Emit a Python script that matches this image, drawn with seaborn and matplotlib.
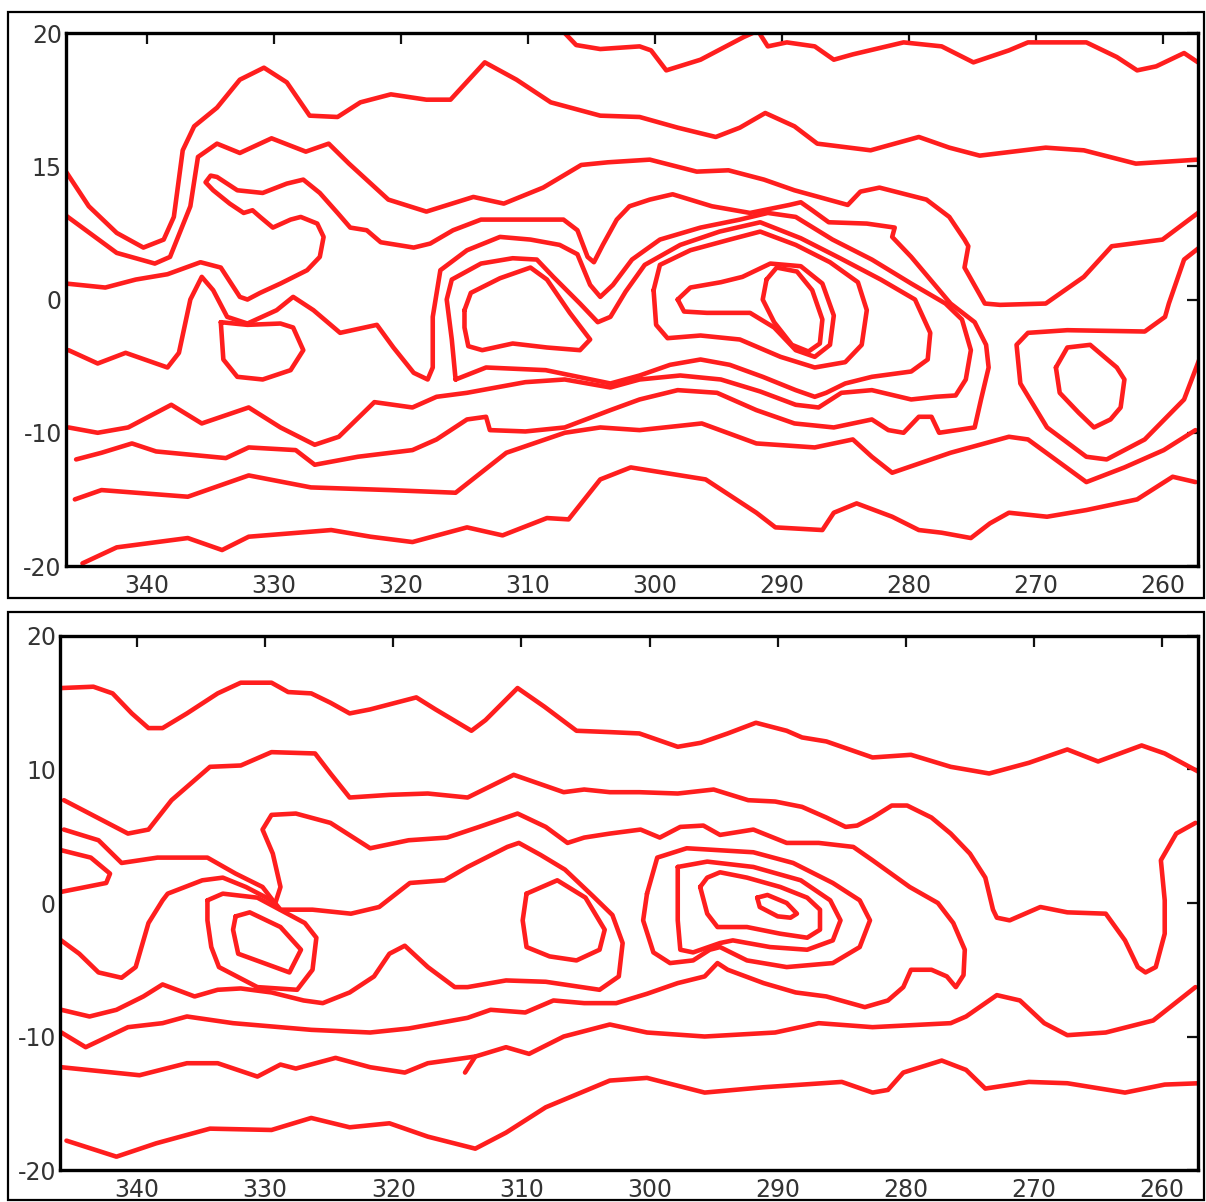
import matplotlib
matplotlib.use("Agg")
import matplotlib.pyplot as plt
import pandas as pd
import seaborn as sns
from matplotlib.patches import Rectangle

# hand traced contour lines, (lon, lat) pairs

# ---- upper panel ----
up_a1 = [(307.1, 20.0), (306.2, 19.1), (304.3, 18.8), (301.2, 19.0), (300.3, 18.7), (299.1, 17.2),
         (296.4, 18.0), (293.0, 19.7), (292.3, 20.0)]
up_a2 = [(291.7, 19.9), (291.1, 19.0), (289.6, 19.3), (287.4, 19.0), (285.9, 18.0), (284.4, 18.4),
         (280.4, 19.3), (277.4, 19.0), (274.9, 17.8), (272.1, 18.7), (270.6, 19.3), (266.0, 19.3),
         (263.6, 18.2), (262.0, 17.2), (260.5, 17.5), (258.3, 18.5), (257.2, 17.8)]
up_b = [(346.4, 9.6), (344.6, 7.0), (342.4, 5.0), (340.3, 3.9), (338.7, 4.5), (337.9, 6.2), (337.2, 11.2),
        (336.3, 13.0), (334.5, 14.4), (332.7, 16.5), (330.8, 17.4), (329.0, 16.3), (327.2, 13.8),
        (325.0, 13.7), (323.2, 14.8), (320.8, 15.4), (318.0, 15.0), (316.1, 15.0), (313.4, 17.8),
        (310.9, 16.5), (308.2, 14.8), (304.3, 13.8), (301.2, 13.7), (298.2, 12.9), (295.2, 12.2),
        (293.3, 12.9), (291.3, 14.0), (289.0, 13.0), (287.2, 11.7), (283.0, 11.2), (279.2, 12.2),
        (276.8, 11.4), (274.4, 10.8), (269.2, 11.4), (266.2, 11.2), (262.1, 10.2), (257.2, 10.5)]
up_c = [(346.4, 6.3), (342.4, 3.5), (339.4, 2.7), (338.2, 3.2), (336.6, 7.0), (336.0, 10.7), (334.5, 11.7),
        (332.7, 11.0), (330.2, 12.1), (327.5, 11.1), (325.7, 11.7), (324.1, 10.2), (321.0, 7.5),
        (318.0, 6.6), (314.3, 7.7), (311.9, 7.2), (308.8, 8.4), (305.8, 10.1), (303.7, 10.3),
        (300.4, 10.5), (296.7, 9.6), (294.2, 9.7), (291.4, 9.0), (289.0, 8.2), (284.8, 7.1), (283.8, 8.1),
        (282.3, 8.4), (278.6, 7.5), (276.8, 6.2), (275.6, 4.5), (275.3, 4.0), (275.6, 2.4), (274.0, -0.3),
        (272.8, -0.4), (269.2, -0.3), (266.2, 1.7), (264.0, 4.0), (260.0, 4.5), (257.2, 6.5)]
up_d = [(346.4, 1.2), (343.3, 0.9), (340.9, 1.5), (338.4, 1.9), (335.8, 2.8), (334.2, 2.4), (332.7, 0.2),
        (332.1, 0.0), (331.1, 0.5), (329.5, 1.2), (327.4, 2.2), (326.4, 3.2), (326.1, 4.7), (326.6, 5.7),
        (327.9, 6.2), (328.7, 6.0), (330.1, 5.4), (331.1, 6.2), (331.7, 6.7), (332.4, 6.5), (333.5, 7.2),
        (334.8, 8.2), (335.4, 8.8), (335.0, 9.3), (334.5, 9.2), (332.9, 8.2), (330.9, 8.0), (329.0, 8.7),
        (327.7, 9.0), (326.4, 8.0), (325.0, 6.5), (324.0, 5.4), (322.7, 5.2), (321.6, 4.3), (319.0, 3.9),
        (317.7, 4.2), (315.9, 5.2), (313.7, 6.0), (309.6, 6.0), (307.2, 6.0), (306.1, 5.2), (305.3, 3.2),
        (304.8, 2.8), (304.1, 4.1), (303.0, 6.0), (302.0, 7.0), (300.4, 7.5), (298.6, 7.9), (295.5, 7.0),
        (292.5, 6.5), (289.4, 7.1), (288.5, 7.3), (287.6, 6.7), (286.3, 5.8), (283.3, 5.7), (281.1, 5.4),
        (281.3, 4.7), (279.8, 3.2), (276.7, -0.3), (274.8, -1.7), (273.9, -3.4), (273.7, -5.1),
        (274.3, -7.5), (274.8, -9.6), (277.6, -10.0), (278.2, -8.8), (279.2, -8.8), (280.4, -10.0),
        (281.6, -9.8), (282.9, -9.0), (285.9, -9.6), (289.0, -9.3), (292.0, -8.3), (295.1, -7.0),
        (298.2, -6.8), (301.2, -7.5), (303.5, -8.3), (307.1, -9.6), (310.2, -9.9), (313.0, -9.8),
        (313.3, -8.8), (314.8, -9.0), (317.2, -10.5), (319.1, -11.3), (323.4, -11.8), (326.8, -12.4),
        (328.3, -11.3), (332.0, -11.1), (333.8, -11.9), (339.3, -11.4), (341.2, -10.8), (343.6, -11.5),
        (345.6, -12.0)]
up_p = [(346.2, -3.8), (343.9, -4.8), (341.7, -4.0), (338.4, -5.1), (337.5, -4.0), (336.6, 0.0), (335.7, 1.7),
        (334.8, 0.7), (333.7, -1.3), (332.1, -1.8), (329.8, -0.8), (328.5, 0.2), (326.9, -0.8),
        (324.8, -2.5), (321.9, -1.9), (320.6, -3.6), (319.0, -5.5), (317.9, -6.0), (317.5, -5.1),
        (317.5, -1.3), (316.9, 2.2), (314.8, 3.7), (312.2, 4.7), (309.8, 4.5), (307.5, 4.1), (306.1, 3.4),
        (305.1, 1.1), (304.3, 0.2), (303.3, 1.1), (301.8, 3.0), (299.6, 4.5), (296.4, 5.4), (293.3, 6.0),
        (291.1, 6.5), (288.9, 6.2), (286.0, 4.5), (282.9, 3.0), (279.8, 1.2), (277.1, -0.3), (275.8, -1.5),
        (275.1, -3.8), (275.5, -6.0), (276.3, -7.2), (277.9, -7.3), (279.8, -7.5), (282.9, -6.8),
        (285.3, -7.0), (287.1, -8.1), (288.9, -7.9), (291.7, -6.9), (294.8, -6.0), (298.0, -5.7),
        (301.2, -6.0), (303.5, -6.6), (307.1, -6.0), (310.2, -6.2), (314.8, -7.0), (317.2, -7.3),
        (319.1, -8.1), (322.1, -7.7), (324.9, -10.3), (326.8, -10.9), (329.5, -9.6), (332.0, -8.1),
        (335.7, -9.3), (338.1, -7.9), (341.5, -9.6), (343.9, -10.0), (346.2, -9.6)]
up_c2 = [(315.7, -6.0), (316.0, -3.0), (316.4, 0.0), (316.0, 1.5), (313.7, 2.7), (311.2, 3.1), (309.3, 3.0),
         (308.0, 1.7), (305.9, -0.3), (304.5, -1.7), (303.5, -1.3), (302.3, 0.6), (300.8, 2.6),
         (298.0, 4.1), (294.9, 5.1), (291.7, 5.8), (288.5, 4.6), (285.4, 3.1), (282.2, 1.5), (279.5, 0.0),
         (278.3, -2.5), (278.5, -4.5), (279.8, -5.4), (282.9, -5.8), (285.0, -6.3), (286.5, -7.0),
         (287.4, -7.3), (288.9, -6.8), (291.5, -5.8), (294.1, -4.9), (296.4, -4.5), (298.8, -4.9),
         (301.2, -5.7), (303.5, -6.3), (308.6, -5.3), (313.3, -5.1), (315.7, -6.0)]
up_small = [(334.2, -1.7), (334.0, -4.5), (332.9, -5.8), (330.9, -6.0), (328.7, -5.3), (327.7, -3.8),
            (328.5, -2.1), (329.5, -1.8), (332.1, -1.9), (334.2, -1.7)]
up_tri = [(315.0, -0.8), (314.5, 0.5), (312.2, 1.6), (309.8, 2.4), (308.5, 1.5), (306.7, -1.0), (305.1, -3.0),
          (305.9, -3.8), (308.5, -3.6), (311.2, -3.3), (313.6, -3.8), (314.7, -3.5), (315.0, -2.1),
          (315.0, -0.8)]
up_o1 = [(291.2, 1.5), (290.4, 2.4), (288.8, 2.1), (287.6, 0.7), (286.8, -1.5), (287.0, -3.3), (287.9, -3.9),
         (289.2, -3.4), (290.6, -1.7), (291.5, 0.0), (291.2, 1.5)]
up_o2 = [(298.2, 0.0), (297.2, 0.9), (294.8, 1.3), (293.1, 1.7), (290.9, 2.7), (288.5, 2.5), (286.8, 1.2),
         (285.9, -1.2), (286.2, -3.4), (287.4, -4.3), (288.9, -3.8), (290.6, -2.1), (292.5, -1.0),
         (295.9, -1.0), (297.7, -0.9), (298.2, 0.0)]
up_o3 = [(300.1, 0.7), (299.6, 2.6), (297.2, 3.7), (294.1, 4.5), (291.7, 5.1), (288.9, 4.1), (286.2, 2.8),
         (284.0, 1.3), (283.3, -0.8), (283.7, -3.4), (285.0, -4.7), (287.4, -5.1), (290.1, -4.3),
         (293.3, -3.0), (296.4, -2.7), (299.0, -2.9), (299.9, -1.9), (300.1, 0.7)]
up_e = [(257.1, 3.9), (258.3, 3.0), (259.5, -0.3), (259.8, -1.3), (261.4, -2.4), (267.5, -2.3), (270.6, -2.5),
        (271.5, -3.4), (271.2, -6.3), (269.1, -9.6), (266.0, -11.8), (264.4, -12.0), (261.4, -10.5),
        (258.3, -7.5), (257.1, -4.5)]
up_f = [(268.4, -5.1), (267.5, -3.6), (265.7, -3.4), (263.6, -5.1), (263.0, -6.0), (263.3, -8.1), (264.1, -9.0),
        (265.4, -9.6), (266.6, -8.5), (268.1, -7.0), (268.4, -5.1)]
up_g = [(345.7, -15.0), (343.6, -14.3), (336.8, -14.8), (332.0, -13.2), (327.1, -14.1), (320.9, -14.3),
        (315.7, -14.5), (311.7, -11.5), (307.1, -10.0), (304.3, -9.6), (301.2, -9.8), (296.3, -9.3),
        (292.0, -10.8), (287.4, -11.1), (284.4, -10.5), (282.9, -11.8), (281.3, -13.0), (276.7, -11.5),
        (272.1, -10.3), (270.6, -10.5), (266.0, -13.7), (263.0, -12.6), (259.9, -11.3), (257.4, -9.8)]
up_h = [(345.1, -19.8), (342.4, -18.6), (336.8, -17.9), (334.1, -18.8), (332.0, -17.8), (325.5, -17.3),
        (322.4, -17.8), (319.1, -18.2), (314.8, -17.1), (312.0, -17.7), (308.5, -16.4), (306.8, -16.5),
        (304.3, -13.5), (301.9, -12.6), (296.0, -13.5), (292.0, -16.0), (290.5, -17.1), (286.8, -17.3),
        (285.9, -16.0), (284.1, -15.3), (281.3, -16.3), (279.2, -17.3), (277.4, -17.5), (275.1, -17.9),
        (273.6, -16.8), (272.1, -16.0), (269.1, -16.3), (266.0, -15.8), (262.0, -15.0), (259.2, -13.3),
        (257.4, -13.7)]

# ---- lower panel ----
lo_b1 = [(345.9, 16.1), (343.4, 16.2), (341.9, 15.7), (340.4, 14.2), (339.1, 13.1), (338.0, 13.1),
         (336.1, 14.2), (333.7, 15.7), (331.9, 16.5), (329.5, 16.5), (328.2, 15.8), (326.4, 15.7),
         (324.9, 15.0), (323.4, 14.2), (321.8, 14.5), (318.2, 15.4), (316.7, 14.5), (313.9, 12.9),
         (312.8, 13.7), (310.3, 16.1), (308.2, 14.7), (305.7, 12.9), (303.1, 12.8), (300.8, 12.7),
         (297.8, 11.7), (296.0, 12.0), (293.9, 12.7), (291.7, 13.5), (289.3, 12.9), (288.1, 12.4),
         (286.2, 12.1), (282.6, 10.9), (279.6, 11.1), (276.5, 10.2), (273.5, 9.7), (270.4, 10.5),
         (267.4, 11.5), (265.0, 10.6), (261.6, 11.8), (259.8, 11.2), (257.1, 9.8)]
lo_b2 = [(345.7, 7.7), (343.1, 6.4), (340.7, 5.2), (339.1, 5.5), (337.3, 7.7), (334.3, 10.2), (331.9, 10.3),
         (329.5, 11.3), (326.1, 11.2), (324.9, 9.7), (323.4, 7.9), (320.3, 8.1), (317.3, 8.2), (314.2, 7.9),
         (310.6, 9.6), (306.7, 8.3), (305.1, 8.5), (303.1, 8.3), (300.8, 8.3), (297.8, 8.2), (295.0, 8.5),
         (292.3, 7.7), (290.2, 7.6), (288.1, 7.2), (286.2, 6.4), (284.7, 5.7), (283.8, 5.8), (282.6, 6.4),
         (281.1, 7.3), (279.9, 7.3), (278.0, 6.4), (276.5, 5.2), (275.0, 3.7), (273.8, 1.9), (273.2, -0.5),
         (272.9, -1.1), (271.9, -1.3), (269.5, -0.3), (267.4, -0.7), (264.4, -0.8), (262.9, -2.8),
         (261.9, -4.8), (261.3, -5.2), (260.5, -4.8), (259.8, -2.3), (259.8, 0.2), (260.1, 3.2),
         (258.9, 5.2), (257.4, 6.0)]
lo_b3 = [(345.7, 5.5), (343.0, 4.7), (341.2, 3.0), (338.4, 3.4), (334.5, 3.4), (332.3, 2.2), (330.2, 1.2),
         (329.4, 0.2), (328.8, -0.5), (326.3, -0.5), (323.3, -0.8), (321.1, -0.3), (318.7, 1.5),
         (316.0, 1.7), (314.2, 2.7), (311.1, 4.2), (310.2, 4.5), (308.5, 3.6), (306.6, 2.5), (304.4, 0.5),
         (302.9, -0.9), (302.1, -3.0), (302.4, -5.5), (303.9, -6.5), (308.1, -5.9), (311.2, -5.8),
         (314.2, -6.3), (315.2, -6.3), (317.3, -4.8), (319.1, -3.2), (320.3, -3.8), (321.5, -5.5),
         (323.4, -6.7), (325.5, -7.5), (327.0, -7.3), (329.5, -6.7), (331.9, -6.4), (333.7, -6.5),
         (335.5, -7.0), (338.0, -6.1), (339.5, -7.0), (341.6, -8.0), (343.7, -8.5), (345.9, -8.0)]
lo_hook = [(346.2, -2.6), (344.5, -3.8), (343.0, -5.2), (341.2, -5.6), (340.1, -4.8), (339.1, -1.5),
           (338.0, 0.2), (337.6, 0.7), (334.9, 1.7), (333.3, 1.9), (331.5, 1.2), (329.9, 0.4), (329.2, 0.0),
           (328.8, 1.2), (329.4, 3.7), (330.2, 5.5), (329.5, 6.6), (327.6, 6.7), (324.9, 6.0), (321.8, 4.1),
           (318.8, 4.7), (315.8, 4.9), (313.3, 5.7), (310.3, 6.7), (308.1, 5.7), (306.4, 4.5), (305.1, 4.9),
           (303.1, 5.2), (300.7, 5.5), (299.2, 4.9), (297.6, 5.7), (295.8, 5.8), (294.5, 5.1), (291.9, 5.5),
           (289.3, 4.5), (286.8, 4.5), (284.1, 4.2), (282.6, 3.2), (279.7, 1.2), (277.5, 0.0), (276.3, -1.5),
           (275.4, -3.5), (275.5, -5.4), (276.1, -6.3), (276.8, -5.5), (278.0, -5.0), (279.6, -5.0),
           (280.2, -6.3), (281.4, -7.3), (283.2, -7.8), (286.2, -7.0), (288.6, -6.7), (291.1, -6.0),
           (293.9, -5.0), (294.7, -4.5), (295.7, -5.5), (297.8, -6.0), (300.2, -6.8), (302.6, -7.5),
           (305.1, -7.5), (307.5, -7.3), (309.7, -8.2), (312.4, -8.0), (314.2, -8.6), (318.8, -9.4),
           (321.8, -9.7), (326.4, -9.5), (332.5, -9.0), (336.1, -8.5), (338.0, -9.0), (340.7, -9.3),
           (344.0, -10.8), (345.9, -9.7)]
lo_b6 = [(345.9, -12.3), (339.8, -12.9), (336.1, -12.0), (333.7, -12.0), (330.6, -13.0), (328.8, -12.1),
         (327.6, -12.4), (324.5, -11.6), (321.8, -12.3), (319.1, -12.7), (317.3, -12.0), (313.6, -11.5),
         (311.2, -10.8), (309.4, -11.3), (306.7, -10.0), (303.1, -9.1), (300.2, -9.7), (295.7, -10.0),
         (290.2, -9.7), (286.8, -9.0), (282.6, -9.3), (276.5, -9.0), (275.3, -8.5), (272.9, -6.9),
         (271.1, -7.3), (269.2, -9.0), (267.4, -9.9), (264.4, -9.7), (260.7, -8.8), (257.4, -6.3)]
lo_spur = [(313.6, -11.5), (314.4, -12.7)]
lo_b7 = [(345.5, -17.8), (341.6, -19.0), (338.5, -18.0), (334.3, -16.9), (329.5, -17.0), (326.4, -16.1),
         (323.4, -16.8), (320.3, -16.5), (317.3, -17.5), (313.6, -18.4), (311.2, -17.2), (308.1, -15.3),
         (303.1, -13.3), (300.2, -13.1), (295.7, -14.2), (291.1, -13.8), (285.0, -13.4), (282.6, -14.2),
         (281.4, -14.0), (280.2, -12.7), (277.2, -11.8), (275.3, -12.5), (273.8, -13.9), (270.4, -13.4),
         (267.4, -13.5), (262.9, -14.2), (259.8, -13.6), (257.1, -13.5)]
lo_lip = [(346.1, 4.0), (343.6, 3.4), (342.1, 2.2), (342.4, 1.5), (344.5, 1.1), (346.1, 0.8)]
lo_out330 = [(334.5, 0.2), (333.3, 0.7), (330.6, 0.4), (326.9, -1.5), (326.0, -2.6), (326.3, -5.0),
             (327.5, -6.5), (330.6, -6.3), (333.6, -4.8), (334.2, -3.3), (334.5, -1.3), (334.5, 0.2)]
lo_in330 = [(332.3, -1.0), (331.2, -0.7), (328.8, -1.8), (327.2, -3.5), (328.1, -5.2), (330.1, -4.5),
            (332.1, -3.8), (332.5, -2.0), (332.3, -1.0)]
lo_loop310 = [(309.6, 0.7), (307.2, 1.7), (305.0, 0.4), (303.5, -2.0), (303.9, -3.5), (305.7, -4.3),
              (307.8, -4.0), (309.6, -3.3), (309.9, -1.3), (309.6, 0.7)]
lo_r1 = [(291.6, 0.4), (290.8, 0.6), (289.3, 0.0), (288.5, -0.8), (289.0, -1.1), (290.0, -1.0), (291.4, -0.3),
         (291.6, 0.4)]
lo_r2 = [(296.05, 1.2), (295.5, 1.9), (294.5, 2.3), (292.4, 1.9), (289.8, 1.2), (287.7, 0.4), (286.7, -0.5),
         (286.7, -2.0), (287.7, -2.6), (289.8, -2.3), (292.4, -1.8), (294.7, -1.8), (295.5, -0.8),
         (296.05, 1.2)]
lo_r3 = [(297.8, 2.7), (295.5, 3.1), (291.9, 2.7), (288.2, 1.7), (285.9, 0.2), (285.1, -1.3), (285.7, -2.8),
         (287.7, -3.5), (290.6, -3.3), (293.5, -2.8), (294.5, -3.0), (296.6, -3.7), (297.6, -3.5),
         (297.8, -1.3), (297.8, 2.7)]
lo_r4 = [(300.2, 0.7), (299.4, 3.4), (297.1, 4.1), (291.9, 3.8), (288.8, 3.0), (285.7, 1.5), (283.6, 0.2),
         (282.8, -1.3), (283.6, -3.3), (285.7, -4.5), (289.3, -4.8), (292.4, -4.3), (294.5, -3.3),
         (295.3, -3.5), (296.6, -4.3), (298.4, -4.5), (299.7, -3.7), (300.5, -1.3), (300.2, 0.7)]

lon_ticks = [340, 330, 320, 310, 300, 290, 280, 270, 260]
lat_ticks = [20, 10, 0, -10, -20]
up_lat_labels = ["20", "15", "0", "-10", "-20"]
lo_lat_labels = ["20", "10", "0", "-10", "-20"]

upper_lines = [up_a1, up_a2, up_b, up_c, up_d, up_p, up_c2, up_small, up_tri, up_o1, up_o2, up_o3,
               up_e, up_f, up_g, up_h]
lower_lines = [lo_b1, lo_b2, lo_b3, lo_hook, lo_b6, lo_spur, lo_b7, lo_lip, lo_out330, lo_in330,
               lo_loop310, lo_r1, lo_r2, lo_r3, lo_r4]


def to_frame(lines):
    rows = []
    for i, line in enumerate(lines):
        for lon, lat in line:
            rows.append((i, lon, lat))
    return pd.DataFrame(rows, columns=["seg", "lon", "lat"])


sns.set_style("white")
plt.rcParams["font.family"] = ["DejaVu Sans"]

fig = plt.figure(figsize=(12.06, 12.02), dpi=100)
ax_up = fig.add_axes([0.0547, 0.5291, 0.9387, 0.4434])
ax_lo = fig.add_axes([0.0498, 0.0266, 0.9436, 0.4443])

red = "#ff1e1e"
panels = [(ax_up, upper_lines, (346.4, 257.2), up_lat_labels),
          (ax_lo, lower_lines, (346.0, 257.2), lo_lat_labels)]

for ax, lines, xlim, ylabels in panels:
    sns.lineplot(data=to_frame(lines), x="lon", y="lat", units="seg", estimator=None, sort=False,
                 color=red, lw=3.3, solid_capstyle="round", solid_joinstyle="round",
                 legend=False, ax=ax)
    ax.set_xlim(*xlim)
    ax.set_ylim(-20, 20)
    ax.set_xlabel("")
    ax.set_ylabel("")
    ax.set_xticks(lon_ticks)
    ax.set_xticklabels([str(t) for t in lon_ticks])
    ax.set_yticks(lat_ticks)
    ax.set_yticklabels(ylabels)
    ax.tick_params(axis="both", direction="in", length=8, width=1.6, color="#111111",
                   labelcolor="#333333", labelsize=17, top=True, right=True)
    ax.tick_params(axis="x", pad=6)
    ax.tick_params(axis="y", pad=3)
    for s in ax.spines.values():
        s.set_visible(True)
        s.set_linewidth(2.4)
        s.set_color("black")

# outer frames around each panel
fig.add_artist(Rectangle((0.0066, 0.5025), 0.9917, 0.4875, transform=fig.transFigure,
                         fill=False, lw=1.6, ec="black"))
fig.add_artist(Rectangle((0.0066, 0.0017), 0.9917, 0.4892, transform=fig.transFigure,
                         fill=False, lw=1.6, ec="black"))

fig.savefig("out.png", dpi=100, facecolor="white")
